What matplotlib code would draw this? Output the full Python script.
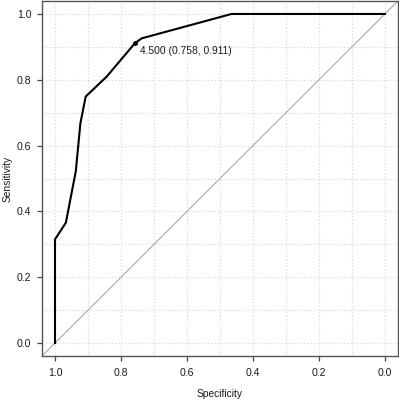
import matplotlib
matplotlib.use('Agg')
import matplotlib.pyplot as plt
import numpy as np

plt.rcParams['font.family'] = ['Liberation Sans', 'DejaVu Sans']

# ROC curve points
specificity = [1.0, 1.0, 0.998, 0.967, 0.937, 0.923, 0.907, 0.843, 0.758, 0.737, 0.465, 0.0]
sensitivity = [0.0, 0.316, 0.318, 0.366, 0.522, 0.668, 0.749, 0.81, 0.911, 0.926, 1.0, 1.0]

thres_label = '4.500 (0.758, 0.911)'
thres_spec = 0.758
thres_sens = 0.911

ticks = [0.0, 0.2, 0.4, 0.6, 0.8, 1.0]
tick_labels = ['0.0', '0.2', '0.4', '0.6', '0.8', '1.0']

fig = plt.figure(figsize=(3.99, 4.0), dpi=100)
ax = fig.add_axes([41.8 / 399, 1 - 356.2 / 400, 356.4 / 399, 355.4 / 400])

ax.set_xlim(1.04, -0.04)
ax.set_ylim(-0.04, 1.04)

# grid every 0.1
ax.set_xticks(ticks)
ax.set_yticks(ticks)
ax.set_xticks(np.arange(0, 1.01, 0.1), minor=True)
ax.set_yticks(np.arange(0, 1.01, 0.1), minor=True)
ax.grid(which='both', color='#d9d9d9', linestyle=':', linewidth=0.9)
ax.tick_params(which='minor', length=0)
ax.set_axisbelow(True)

ax.set_xticklabels(tick_labels)
ax.set_yticklabels(tick_labels)
ax.tick_params(which='major', direction='out', length=3.6, width=0.9, color='#444444',
               labelsize=7.6, labelcolor='#1a1a1a')
ax.tick_params(axis='x', pad=5)
ax.tick_params(axis='y', pad=4)

for s in ax.spines.values():
    s.set_color('#555555')
    s.set_linewidth(1.0)

# chance line: sensitivity = 1 - specificity
ax.axline((1, 0), slope=-1, color='#aaaaaa', linewidth=0.8)

ax.plot(specificity, sensitivity, color='black', linewidth=1.5, solid_joinstyle='round')
ax.plot([thres_spec], [thres_sens], 'o', color='black', markersize=2.5)
ax.annotate(thres_label, (thres_spec, thres_sens), xytext=(3.5, -1.8),
            textcoords='offset points', ha='left', va='top', fontsize=7.4, color='#1a1a1a')

fig.text(220 / 399, 1 - 394 / 400, 'Specificity', ha='center', va='center',
         fontsize=7.4, color='#1a1a1a')
fig.text(8 / 399, 1 - 178.5 / 400, 'Sensitivity', ha='center', va='center',
         rotation=90, fontsize=7.4, color='#1a1a1a')

plt.savefig('out.png', dpi=100)
